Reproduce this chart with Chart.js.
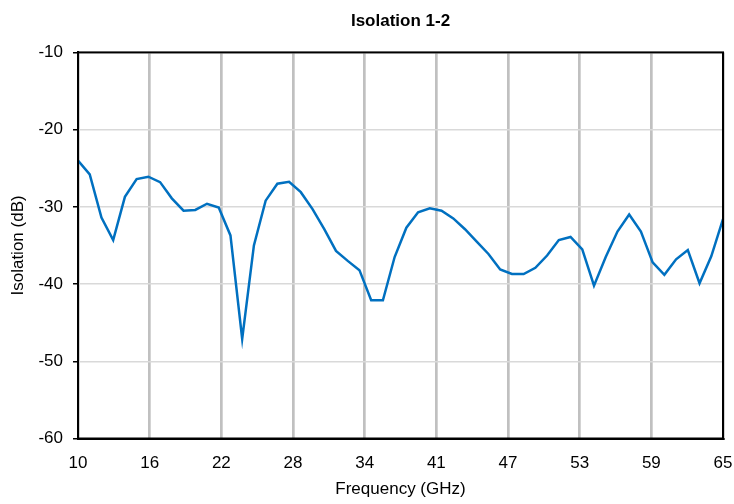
<!DOCTYPE html>
<html>
<head>
<meta charset="utf-8">
<title>Isolation 1-2</title>
<script src="https://cdn.jsdelivr.net/npm/chart.js@4.4.1/dist/chart.umd.min.js"></script>
<style>
  html, body { margin: 0; padding: 0; background: #fff; }
  #wrap { width: 734px; height: 504px; }
</style>
</head>
<body>
<div id="wrap"><canvas id="isoChart"></canvas></div>
<script>
// Datos
const frecuencias = [10, 11, 12, 13, 14, 15, 16, 17, 18, 19,
                     20, 21, 22, 23, 24, 25, 26, 27, 28, 29,
                     30, 31, 32, 33, 34, 35, 36, 37, 38, 39,
                     40, 41, 42, 43, 44, 45, 46, 47, 48, 49,
                     50, 51, 52, 53, 54, 55, 56, 57, 58, 59,
                     60, 61, 62, 63, 64, 65];
const aislamiento = [-24.0, -25.8, -31.4, -34.3, -28.7, -26.4, -26.1, -26.8, -28.9, -30.5,
                     -30.4, -29.6, -30.1, -33.7, -47.1, -35.0, -29.2, -27.0, -26.75, -28.1,
                     -30.3, -32.9, -35.7, -37.0, -38.2, -42.1, -42.1, -36.5, -32.7, -30.7,
                     -30.2, -30.5, -31.5, -32.9, -34.5, -36.1, -38.1, -38.7, -38.7, -37.9,
                     -36.3, -34.3, -33.9, -35.5, -40.2, -36.5, -33.2, -31.0, -33.2, -37.2,
                     -38.8, -36.8, -35.6, -39.9, -36.4, -31.6];
const xTickLabels = ['10', '16', '22', '28', '34', '41', '47', '53', '59', '65'];
const yTicks = [-60, -50, -40, -30, -20, -10];

const FUENTE = '"Liberation Sans", Arial, sans-serif';

// Marco negro alrededor del area de trazado
const marco = {
    id: 'marco',
    afterDraw(chart) {
        const { ctx, chartArea: a } = chart;
        ctx.save();
        ctx.strokeStyle = '#000';
        ctx.lineWidth = 2;
        ctx.strokeRect(a.left, a.top, a.right - a.left, a.bottom - a.top);
        ctx.restore();
    }
};

const ctx = document.getElementById('isoChart').getContext('2d');
const chart = new Chart(ctx, {
    type: 'line',
    data: {
        datasets: [{
            label: 'Isolation 1-2',
            data: frecuencias.map((f, i) => ({ x: f, y: aislamiento[i] })),
            borderColor: '#0070c0',
            borderWidth: 2.5,
            pointRadius: 0,
            tension: 0,
            fill: false
        }]
    },
    options: {
        responsive: true,
        maintainAspectRatio: false,
        animation: false,
        layout: { padding: { left: 0, right: 11, top: 0, bottom: 0 } },
        plugins: {
            legend: { display: false },
            tooltip: { enabled: false },
            title: {
                display: true,
                text: 'Isolation 1-2',
                fullSize: false,
                color: '#000',
                font: { family: FUENTE, size: 17, weight: 'bold' },
                padding: { top: 11, bottom: 21 }
            }
        },
        scales: {
            x: {
                type: 'linear',
                min: frecuencias[0],
                max: frecuencias[frecuencias.length - 1],
                afterBuildTicks(scale) {
                    const n = xTickLabels.length;
                    const paso = (scale.max - scale.min) / (n - 1);
                    scale.ticks = xTickLabels.map((lab, i) => ({ value: scale.min + i * paso, label: lab }));
                },
                afterFit(scale) {
                    scale.height = 65.5;
                    scale.paddingLeft = 0;
                    scale.paddingRight = 0;
                },
                ticks: {
                    color: '#000',
                    font: { family: FUENTE, size: 17 },
                    padding: 15,
                    maxRotation: 0,
                    autoSkip: false,
                    callback(value, index) { return xTickLabels[index]; }
                },
                grid: { color: '#c0c0c0', lineWidth: 2.7, drawTicks: false },
                border: { display: true, color: '#000', width: 2 },
                title: {
                    display: true,
                    text: 'Frequency (GHz)',
                    color: '#000',
                    font: { family: FUENTE, size: 17 },
                    padding: { top: 0, bottom: 4 }
                }
            },
            y: {
                min: -60,
                max: -10,
                afterBuildTicks(scale) {
                    scale.ticks = yTicks.map(v => ({ value: v }));
                },
                afterFit(scale) { scale.width = 78; },
                ticks: {
                    color: '#000',
                    font: { family: FUENTE, size: 17 },
                    padding: 10
                },
                grid: { color: '#d9d9d9', lineWidth: 1.5, tickLength: 5, tickColor: '#000', tickWidth: 1.5 },
                border: { display: true, color: '#000', width: 2 },
                title: {
                    display: true,
                    text: 'Isolation (dB)',
                    color: '#000',
                    font: { family: FUENTE, size: 17 },
                    padding: { top: 8, bottom: 0 }
                }
            }
        }
    },
    plugins: [marco]
});
</script>
</body>
</html>
